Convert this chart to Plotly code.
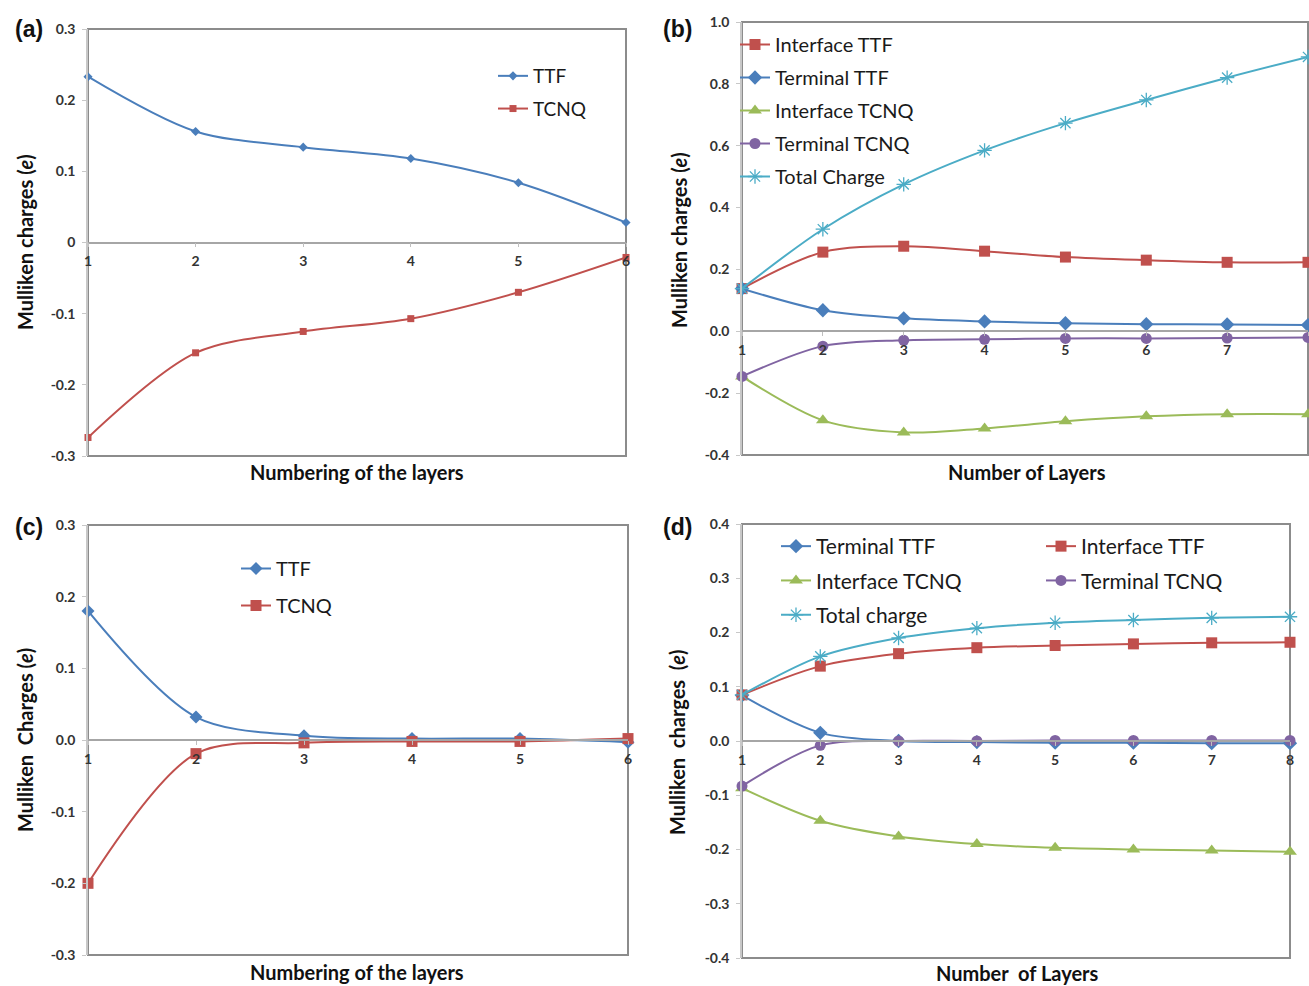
import plotly.graph_objects as go

W, H = 1309, 986

# ---------------- data ----------------
layers_a = [1, 2, 3, 4, 5, 6]
ttf_a = [0.233, 0.156, 0.134, 0.118, 0.084, 0.028]
tcnq_a = [-0.274, -0.155, -0.125, -0.107, -0.070, -0.021]

layers_b = [1, 2, 3, 4, 5, 6, 7, 8]
interface_ttf_b = [0.138, 0.256, 0.275, 0.259, 0.240, 0.230, 0.223, 0.223]
terminal_ttf_b = [0.138, 0.068, 0.042, 0.032, 0.026, 0.023, 0.022, 0.020]
interface_tcnq_b = [-0.146, -0.288, -0.327, -0.314, -0.291, -0.275, -0.268, -0.268]
terminal_tcnq_b = [-0.146, -0.048, -0.029, -0.026, -0.023, -0.023, -0.022, -0.020]
total_b = [0.138, 0.330, 0.475, 0.585, 0.673, 0.748, 0.820, 0.887]

layers_c = [1, 2, 3, 4, 5, 6]
ttf_c = [0.180, 0.032, 0.006, 0.002, 0.002, -0.003]
tcnq_c = [-0.200, -0.019, -0.004, -0.002, -0.002, 0.002]

layers_d = [1, 2, 3, 4, 5, 6, 7, 8]
terminal_ttf_d = [0.084, 0.015, 0.000, -0.002, -0.003, -0.003, -0.004, -0.004]
interface_ttf_d = [0.085, 0.138, 0.161, 0.172, 0.176, 0.179, 0.181, 0.182]
interface_tcnq_d = [-0.087, -0.147, -0.176, -0.190, -0.197, -0.200, -0.202, -0.204]
terminal_tcnq_d = [-0.083, -0.008, 0.000, 0.000, 0.001, 0.001, 0.001, 0.001]
total_d = [0.085, 0.156, 0.190, 0.208, 0.218, 0.223, 0.227, 0.229]

yticks_a = [-0.3, -0.2, -0.1, 0, 0.1, 0.2, 0.3]
yticktext_a = ["-0.3", "-0.2", "-0.1", "0", "0.1", "0.2", "0.3"]
yticks_b = [-0.4, -0.2, 0, 0.2, 0.4, 0.6, 0.8, 1.0]
yticktext_b = ["-0.4", "-0.2", "0.0", "0.2", "0.4", "0.6", "0.8", "1.0"]
yticks_c = [-0.3, -0.2, -0.1, 0, 0.1, 0.2, 0.3]
yticktext_c = ["-0.3", "-0.2", "-0.1", "0.0", "0.1", "0.2", "0.3"]
yticks_d = [-0.4, -0.3, -0.2, -0.1, 0, 0.1, 0.2, 0.3, 0.4]
yticktext_d = ["-0.4", "-0.3", "-0.2", "-0.1", "0.0", "0.1", "0.2", "0.3", "0.4"]

# ---------------- style ----------------
BLUE = "#4A7EBB"
RED = "#C0504D"
GREEN = "#9BBB59"
PURPLE = "#8064A2"
CYAN = "#4BACC6"
FONT = "Lato"

fig = go.Figure()


def add(x, y, name, color, symbol, size, axis, legend, group):
    marker = dict(symbol=symbol, size=size, color=color)
    if symbol.startswith("asterisk"):
        marker["line"] = dict(color=color, width=1.3)
    fig.add_trace(go.Scatter(
        x=x, y=y, name=name, mode="lines+markers",
        line=dict(color=color, width=2, shape="spline", smoothing=0.9),
        marker=marker, xaxis="x" + axis, yaxis="y" + axis,
        legend=legend, legendgroup=group, cliponaxis=False,
    ))


# panel (a)
add(layers_a, ttf_a, "TTF", BLUE, "diamond", 7, "", "legend", "a1")
add(layers_a, tcnq_a, "TCNQ", RED, "square", 7, "", "legend", "a2")
# panel (b)
add(layers_b, interface_ttf_b, "Interface TTF", RED, "square", 11, "2", "legend2", "b1")
add(layers_b, terminal_ttf_b, "Terminal TTF", BLUE, "diamond", 11, "2", "legend2", "b2")
add(layers_b, interface_tcnq_b, "Interface TCNQ", GREEN, "triangle-up", 12, "2", "legend2", "b3")
add(layers_b, terminal_tcnq_b, "Terminal TCNQ", PURPLE, "circle", 11, "2", "legend2", "b4")
add(layers_b, total_b, "Total Charge", CYAN, "asterisk-open", 12, "2", "legend2", "b5")
# panel (c)
add(layers_c, ttf_c, "TTF", BLUE, "diamond", 10, "3", "legend3", "c1")
add(layers_c, tcnq_c, "TCNQ", RED, "square", 11, "3", "legend3", "c2")
# panel (d)
add(layers_d, terminal_ttf_d, "Terminal TTF", BLUE, "diamond", 11, "4", "legend4", "d1")
add(layers_d, interface_ttf_d, "Interface TTF", RED, "square", 11, "4", "legend5", "d2")
add(layers_d, interface_tcnq_d, "Interface TCNQ", GREEN, "triangle-up", 12, "4", "legend4", "d3")
add(layers_d, terminal_tcnq_d, "Terminal TCNQ", PURPLE, "circle", 11, "4", "legend5", "d4")
add(layers_d, total_d, "Total charge", CYAN, "asterisk-open", 12, "4", "legend4", "d5")


def px(x):
    return x / W


def py(y):
    return 1 - y / H


panels = [
    ("", (88, 626), (29, 456), layers_a, yticks_a, yticktext_a),
    ("2", (742, 1308), (22, 455), layers_b, yticks_b, yticktext_b),
    ("3", (88, 628), (525, 955), layers_c, yticks_c, yticktext_c),
    ("4", (742, 1290), (524, 958), layers_d, yticks_d, yticktext_d),
]

tickfont = dict(family=FONT, size=14, color="#333333", weight="bold")
shapes = []
for suf, (x0, x1), (yt, yb), xs, yv, yt_text in panels:
    xd = [px(x0), px(x1)]
    yd = [py(yb), py(yt)]
    ymin, ymax = yv[0], yv[-1]
    zero_pos = yd[0] + (0 - ymin) / (ymax - ymin) * (yd[1] - yd[0])
    fig.update_layout(**{
        "xaxis" + suf: dict(
            domain=xd, range=[xs[0], xs[-1]], anchor="free", position=zero_pos,
            tickvals=xs, ticktext=[str(v) for v in xs],
            showline=True, linecolor="#A6A6A6", linewidth=1.5,
            ticks="outside", ticklen=4, tickcolor="#BFBFBF",
            showgrid=False, zeroline=False, tickfont=tickfont,
            ticklabelstandoff=2, automargin=False,
        ),
        "yaxis" + suf: dict(
            domain=yd, range=[ymin, ymax], anchor="x" + suf,
            tickvals=yv, ticktext=yt_text,
            showline=True, linecolor="#C8C8C8", linewidth=1.5,
            ticks="outside", ticklen=4, tickcolor="#C8C8C8",
            showgrid=False, zeroline=False, tickfont=tickfont,
            ticklabelstandoff=4, automargin=False,
        ),
    })
    shapes.append(dict(type="rect", xref="x" + suf + " domain", yref="y" + suf + " domain",
                       x0=0, x1=1, y0=0, y1=1, line=dict(color="#8C8C8C", width=2),
                       layer="below"))

legfont = lambda s: dict(family=FONT, size=s, color="#1a1a1a")
common_leg = dict(bgcolor="rgba(0,0,0,0)", borderwidth=0, xanchor="left", yanchor="top",
                  itemwidth=30, orientation="v")
fig.update_layout(
    legend=dict(x=px(493), y=py(57), font=legfont(19), tracegroupgap=5, **common_leg),
    legend2=dict(x=px(735), y=py(25), font=legfont(20), tracegroupgap=4, **common_leg),
    legend3=dict(x=px(236), y=py(549), font=legfont(20), tracegroupgap=8, **common_leg),
    legend4=dict(x=px(776), y=py(526), font=legfont(21), tracegroupgap=4, **common_leg),
    legend5=dict(x=px(1041), y=py(526), font=legfont(21), tracegroupgap=4, **common_leg),
)

title_font = dict(family=FONT, size=20, color="#111111", weight="bold")
annotations = []
for lab, x, y in [("(a)", 29, 29), ("(b)", 677, 29), ("(c)", 29, 527), ("(d)", 677, 527)]:
    annotations.append(dict(text="<b>" + lab + "</b>", x=px(x), y=py(y), xref="paper", yref="paper",
                            xanchor="center", yanchor="middle", showarrow=False,
                            font=dict(family="Liberation Sans", size=23, color="#111")))
for t, x, y in [("Numbering of the layers", 357, 472), ("Number of Layers", 1027, 472),
                ("Numbering of the layers", 357, 972), ("Number  of Layers", 1018, 973)]:
    annotations.append(dict(text=t, x=px(x), y=py(y), xref="paper", yref="paper",
                            xanchor="center", yanchor="middle", showarrow=False, font=title_font))
for t, x, y in [("Mulliken charges (<i>e</i>)", 25, 242), ("Mulliken charges (<i>e</i>)", 679, 240),
                ("Mulliken  Charges (<i>e</i>)", 25, 740), ("Mulliken  charges  (<i>e</i>)", 677, 742)]:
    annotations.append(dict(text=t, x=px(x), y=py(y), xref="paper", yref="paper",
                            xanchor="center", yanchor="middle", showarrow=False,
                            textangle=-90, font=title_font))

fig.update_layout(
    width=W, height=H, margin=dict(l=0, r=0, t=0, b=0, autoexpand=False),
    paper_bgcolor="white", plot_bgcolor="white",
    shapes=shapes, annotations=annotations, showlegend=True,
)

fig.write_html("out.html", config={"displayModeBar": False},
               post_script="document.body.style.margin='0';")
